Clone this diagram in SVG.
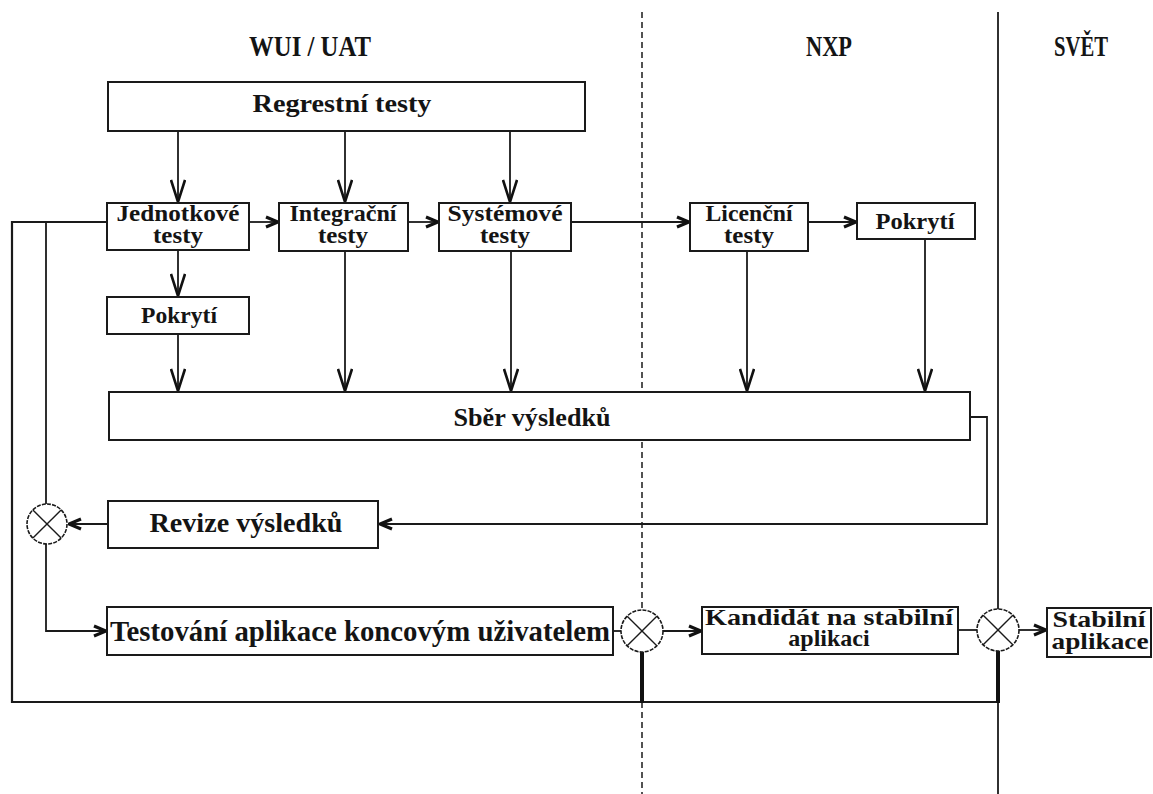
<svg xmlns="http://www.w3.org/2000/svg" width="1153" height="794" viewBox="0 0 1153 794">
<style>
.box{fill:#fff;stroke:#1a1a1a;stroke-width:2}
.ln{fill:none;stroke:#1a1a1a;stroke-width:1.8}
.thk{fill:none;stroke:#111;stroke-width:4}
.t{font-family:"Liberation Serif","Times New Roman",serif;font-weight:bold;fill:#141414;text-anchor:middle}
.hd{font-size:29px}
.s23{font-size:23px}
.s24{font-size:24px}
.s26{font-size:26px}
.circ{fill:#fff;stroke:#1a1a1a;stroke-width:1.6;stroke-dasharray:4 1.2}
.x{stroke:#1a1a1a;stroke-width:1.4}
</style>
<defs>
<marker id="h" viewBox="0 0 14 14" refX="13" refY="7" markerWidth="14" markerHeight="14" orient="auto" markerUnits="userSpaceOnUse">
<path d="M1,2 L13,7 L1,12" fill="none" stroke="#111" stroke-width="3.2"/>
</marker>
<marker id="v" viewBox="0 0 24 16" refX="23" refY="8" markerWidth="24" markerHeight="16" orient="auto" markerUnits="userSpaceOnUse">
<path d="M1,1 L23,8 L1,15" fill="none" stroke="#111" stroke-width="2.6"/>
</marker>
</defs>
<rect width="1153" height="794" fill="#fff"/>

<g id="lanes">
<line x1="642" y1="12" x2="642" y2="794" stroke="#1a1a1a" stroke-width="1.5" stroke-dasharray="6 4"/>
<line x1="998" y1="12" x2="998" y2="794" stroke="#1a1a1a" stroke-width="1.8"/>
<text class="t hd" x="310" y="56" textLength="122" lengthAdjust="spacingAndGlyphs">WUI / UAT</text>
<text class="t hd" x="829" y="56" textLength="46" lengthAdjust="spacingAndGlyphs">NXP</text>
<text class="t hd" x="1081" y="56" textLength="54" lengthAdjust="spacingAndGlyphs">SVĚT</text>
</g>

<g id="connectors">
<line class="ln" x1="178" y1="131" x2="178" y2="202" marker-end="url(#v)"/>
<line class="ln" x1="345" y1="131" x2="345" y2="202" marker-end="url(#v)"/>
<line class="ln" x1="510" y1="131" x2="510" y2="202" marker-end="url(#v)"/>
<line class="ln" x1="249" y1="222" x2="278" y2="222" marker-end="url(#h)"/>
<line class="ln" x1="408" y1="222" x2="438" y2="222" marker-end="url(#h)"/>
<line class="ln" x1="571" y1="222" x2="689" y2="222" marker-end="url(#h)"/>
<line class="ln" x1="808" y1="222" x2="856" y2="222" marker-end="url(#h)"/>
<line class="ln" x1="178" y1="250" x2="178" y2="296" marker-end="url(#v)"/>
<line class="ln" x1="178" y1="334" x2="178" y2="391" marker-end="url(#v)"/>
<line class="ln" x1="345" y1="251" x2="345" y2="391" marker-end="url(#v)"/>
<line class="ln" x1="511" y1="251" x2="511" y2="391" marker-end="url(#v)"/>
<line class="ln" x1="747" y1="251" x2="747" y2="391" marker-end="url(#v)"/>
<line class="ln" x1="925" y1="239" x2="925" y2="391" marker-end="url(#v)"/>
<polyline class="ln" points="970,417 987,417 987,524 380,524" marker-end="url(#h)"/>
<line class="ln" x1="108" y1="524" x2="69" y2="524" marker-end="url(#h)"/>
<polyline class="ln" points="106,222 46,222 46,504"/>
<polyline class="ln" points="46,544 46,631 106,631" marker-end="url(#h)"/>
<polyline class="ln" points="46,222 12,222 12,702 998,702" style="stroke-width:2.2"/>
<line class="ln" x1="613" y1="631" x2="621" y2="631"/>
<line class="ln" x1="663" y1="631" x2="701" y2="631" marker-end="url(#h)"/>
<line class="ln" x1="958" y1="630" x2="977" y2="630"/>
<line class="ln" x1="1019" y1="630" x2="1046" y2="630" marker-end="url(#h)"/>
<line class="thk" x1="642" y1="652" x2="642" y2="703"/>
<line class="thk" x1="998" y1="651" x2="998" y2="703"/>
</g>

<g id="regresni">
<rect class="box" x="108" y="82" width="477" height="49"/>
<text class="t s26" x="342" y="112" textLength="179" lengthAdjust="spacingAndGlyphs">Regrestní testy</text>
</g>
<g id="jednotkove">
<rect class="box" x="107" y="203" width="142" height="47"/>
<text class="t s23" x="178" y="221" textLength="123" lengthAdjust="spacingAndGlyphs">Jednotkové</text>
<text class="t s23" x="178" y="243" textLength="50" lengthAdjust="spacingAndGlyphs">testy</text>
</g>
<g id="integracni">
<rect class="box" x="279" y="203" width="129" height="48"/>
<text class="t s23" x="343" y="221" textLength="107" lengthAdjust="spacingAndGlyphs">Integrační</text>
<text class="t s23" x="343" y="243" textLength="50" lengthAdjust="spacingAndGlyphs">testy</text>
</g>
<g id="systemove">
<rect class="box" x="439" y="203" width="132" height="48"/>
<text class="t s23" x="505" y="221" textLength="115" lengthAdjust="spacingAndGlyphs">Systémové</text>
<text class="t s23" x="505" y="243" textLength="50" lengthAdjust="spacingAndGlyphs">testy</text>
</g>
<g id="licencni">
<rect class="box" x="690" y="203" width="118" height="48"/>
<text class="t s23" x="749" y="221" textLength="87" lengthAdjust="spacingAndGlyphs">Licenční</text>
<text class="t s23" x="749" y="243" textLength="50" lengthAdjust="spacingAndGlyphs">testy</text>
</g>
<g id="pokryti2">
<rect class="box" x="857" y="203" width="118" height="36"/>
<text class="t s24" x="915" y="229" textLength="79" lengthAdjust="spacingAndGlyphs">Pokrytí</text>
</g>
<g id="pokryti1">
<rect class="box" x="107" y="297" width="142" height="37"/>
<text class="t s24" x="179" y="323" textLength="76" lengthAdjust="spacingAndGlyphs">Pokrytí</text>
</g>
<g id="sber">
<rect class="box" x="109" y="392" width="861" height="48"/>
<text class="t s26" x="532" y="426" textLength="157" lengthAdjust="spacingAndGlyphs">Sběr výsledků</text>
</g>
<g id="revize">
<rect class="box" x="108" y="501" width="270" height="47"/>
<text class="t" style="font-size:27px" x="246" y="532" textLength="193" lengthAdjust="spacingAndGlyphs">Revize výsledků</text>
</g>
<g id="uzel1">
<circle class="circ" cx="47" cy="524" r="20"/>
<line class="x" x1="32.9" y1="509.9" x2="61.1" y2="538.1"/>
<line class="x" x1="61.1" y1="509.9" x2="32.9" y2="538.1"/>
</g>
<g id="testovani">
<rect class="box" x="107" y="607" width="506" height="48"/>
<text class="t" style="font-size:29px" x="360" y="641" textLength="500" lengthAdjust="spacingAndGlyphs">Testování aplikace koncovým uživatelem</text>
</g>
<g id="uzel2">
<circle class="circ" cx="642" cy="631" r="21"/>
<line class="x" x1="627.2" y1="616.2" x2="656.8" y2="645.8"/>
<line class="x" x1="656.8" y1="616.2" x2="627.2" y2="645.8"/>
</g>
<g id="kandidat">
<rect class="box" x="702" y="607" width="256" height="47"/>
<text class="t s24" x="829" y="625" textLength="248" lengthAdjust="spacingAndGlyphs">Kandidát na stabilní</text>
<text class="t s24" x="829" y="646">aplikaci</text>
</g>
<g id="uzel3">
<circle class="circ" cx="998" cy="630" r="21"/>
<line class="x" x1="983.2" y1="615.2" x2="1012.8" y2="644.8"/>
<line class="x" x1="1012.8" y1="615.2" x2="983.2" y2="644.8"/>
</g>
<g id="stabilni">
<rect class="box" x="1047" y="608" width="104" height="49"/>
<text class="t s24" x="1099" y="627" textLength="93" lengthAdjust="spacingAndGlyphs">Stabilní</text>
<text class="t s24" x="1100" y="649" textLength="97" lengthAdjust="spacingAndGlyphs">aplikace</text>
</g>
</svg>
